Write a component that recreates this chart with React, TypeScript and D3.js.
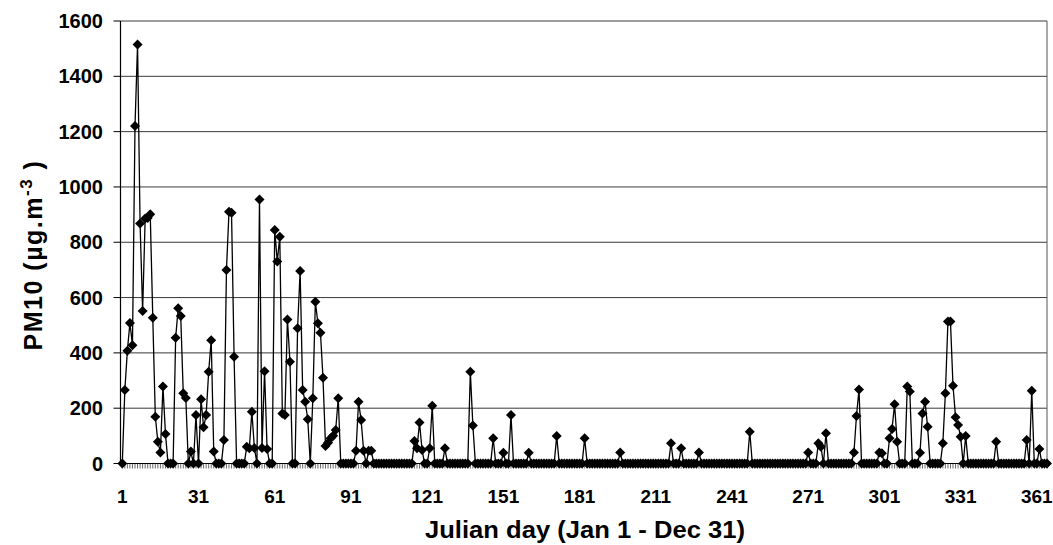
import React from "react";
import * as d3 from "d3";

// PM10 daily concentration, one value per Julian day (1..365)
const pm10: number[] = [
  // 1-10
  0, 266, 408, 508, 428, 1220, 1515, 868, 551, 886,
  // 11-20
  888, 901, 527, 169, 79, 40, 278, 107, 0, 0,
  // 21-30
  0, 455, 561, 533, 254, 237, 0, 43, 0, 175,
  // 31-40
  0, 232, 131, 175, 332, 446, 43, 0, 0, 0,
  // 41-50
  85, 700, 910, 907, 386, 0, 0, 0, 0, 61,
  // 51-60
  55, 187, 56, 0, 955, 56, 334, 52, 0, 0,
  // 61-70
  844, 730, 820, 181, 175, 521, 368, 0, 0, 489,
  // 71-80
  696, 266, 223, 160, 0, 236, 585, 507, 473, 310,
  // 81-90
  63, 75, 91, 100, 121, 236, 0, 0, 0, 0,
  // 91-100
  0, 0, 46, 223, 157, 46, 0, 46, 46, 0,
  // 101-110
  0, 0, 0, 0, 0, 0, 0, 0, 0, 0,
  // 111-120
  0, 0, 0, 0, 0, 81, 55, 148, 49, 0,
  // 121-130
  0, 55, 209, 0, 0, 0, 0, 55, 0, 0,
  // 131-140
  0, 0, 0, 0, 0, 0, 0, 332, 137, 0,
  // 141-150
  0, 0, 0, 0, 0, 0, 91, 0, 0, 0,
  // 151-160
  39, 0, 0, 175, 0, 0, 0, 0, 0, 0,
  // 161-170
  39, 0, 0, 0, 0, 0, 0, 0, 0, 0,
  // 171-180
  0, 99, 0, 0, 0, 0, 0, 0, 0, 0,
  // 181-190
  0, 0, 91, 0, 0, 0, 0, 0, 0, 0,
  // 191-200
  0, 0, 0, 0, 0, 0, 40, 0, 0, 0,
  // 201-210
  0, 0, 0, 0, 0, 0, 0, 0, 0, 0,
  // 211-220
  0, 0, 0, 0, 0, 0, 73, 0, 0, 0,
  // 221-230
  55, 0, 0, 0, 0, 0, 0, 40, 0, 0,
  // 231-240
  0, 0, 0, 0, 0, 0, 0, 0, 0, 0,
  // 241-250
  0, 0, 0, 0, 0, 0, 0, 115, 0, 0,
  // 251-260
  0, 0, 0, 0, 0, 0, 0, 0, 0, 0,
  // 261-270
  0, 0, 0, 0, 0, 0, 0, 0, 0, 0,
  // 271-280
  40, 0, 0, 0, 73, 61, 0, 109, 0, 0,
  // 281-290
  0, 0, 0, 0, 0, 0, 0, 0, 40, 172,
  // 291-300
  268, 0, 0, 0, 0, 0, 0, 0, 40, 37,
  // 301-310
  0, 0, 91, 125, 214, 79, 0, 0, 0, 278,
  // 311-320
  260, 0, 0, 0, 39, 181, 223, 133, 0, 0,
  // 321-330
  0, 0, 0, 73, 254, 513, 513, 281, 167, 139,
  // 331-340
  97, 0, 99, 0, 0, 0, 0, 0, 0, 0,
  // 341-350
  0, 0, 0, 0, 79, 0, 0, 0, 0, 0,
  // 351-360
  0, 0, 0, 0, 0, 0, 85, 0, 263, 0,
  // 361-365
  0, 52, 0, 0, 0,
];

const days: number[] = pm10.map((_, i) => i + 1);
const xTickDays: number[] = [1, 31, 61, 91, 121, 151, 181, 211, 241, 271, 301, 331, 361];
const yTicks: number[] = [0, 200, 400, 600, 800, 1000, 1200, 1400, 1600];

const font = "'Liberation Sans', Arial, sans-serif";

export default function App() {
  const left = 120.5, right = 1047, top = 21, bottom = 463.5;

  const x = d3.scaleLinear().domain([1, 365]).range([122.3, 1047]);
  const y = d3.scaleLinear().domain([0, 1600]).range([bottom, top]);

  const line = d3
    .line<number>()
    .x((d, i) => x(days[i]))
    .y((d) => y(d));

  const diamond = "M0,-5L5,0L0,5L-5,0Z";

  return (
    <svg
      width={1053}
      height={545}
      style={{ position: "absolute", left: 0, top: 0, background: "#fff" }}
      fontFamily={font}
      fontWeight="bold"
    >
      {/* gridlines */}
      {yTicks.map((t) => (
        <line key={"g" + t} x1={left} x2={right} y1={y(t)} y2={y(t)} stroke="#3a3a3a" strokeWidth={1} />
      ))}
      {/* plot border right */}
      <line x1={right} x2={right} y1={top} y2={bottom} stroke="#555" strokeWidth={1} />

      {/* y axis */}
      <line x1={left} x2={left} y1={top} y2={bottom} stroke="#000" strokeWidth={1.2} />
      {yTicks.map((t) => (
        <g key={"y" + t}>
          <line x1={left - 7} x2={left} y1={y(t)} y2={y(t)} stroke="#000" />
          <text x={103} y={y(t) + 7} textAnchor="end" fontSize={20}>
            {t}
          </text>
        </g>
      ))}

      {/* x axis + category ticks */}
      <line x1={left} x2={right} y1={bottom} y2={bottom} stroke="#000" strokeWidth={1.2} />
      {days.map((d) => (
        <line key={"t" + d} x1={x(d)} x2={x(d)} y1={bottom} y2={bottom + 5} stroke="#000" strokeWidth={0.6} />
      ))}
      {xTickDays.map((d) => (
        <text key={"x" + d} x={x(d)} y={503} textAnchor="middle" fontSize={19}>
          {d}
        </text>
      ))}

      {/* series */}
      <path d={line(pm10) || ""} fill="none" stroke="#000" strokeWidth={1.3} />
      {pm10.map((v, i) => (
        <path key={"p" + i} d={diamond} transform={`translate(${x(days[i])},${y(v)})`} fill="#000" />
      ))}

      {/* titles */}
      <text
        x={585}
        y={538}
        textAnchor="middle"
        fontSize={23}
        textLength={320}
        lengthAdjust="spacingAndGlyphs"
      >
        Julian day (Jan 1 - Dec 31)
      </text>
      <text
        transform="translate(42,255) rotate(-90)"
        textAnchor="middle"
        fontSize={25}
        letterSpacing={1.5}
      >
        PM10 (µg.m
        <tspan dy={-10} fontSize={17}>-3</tspan>
        <tspan dy={10}> )</tspan>
      </text>
    </svg>
  );
}
